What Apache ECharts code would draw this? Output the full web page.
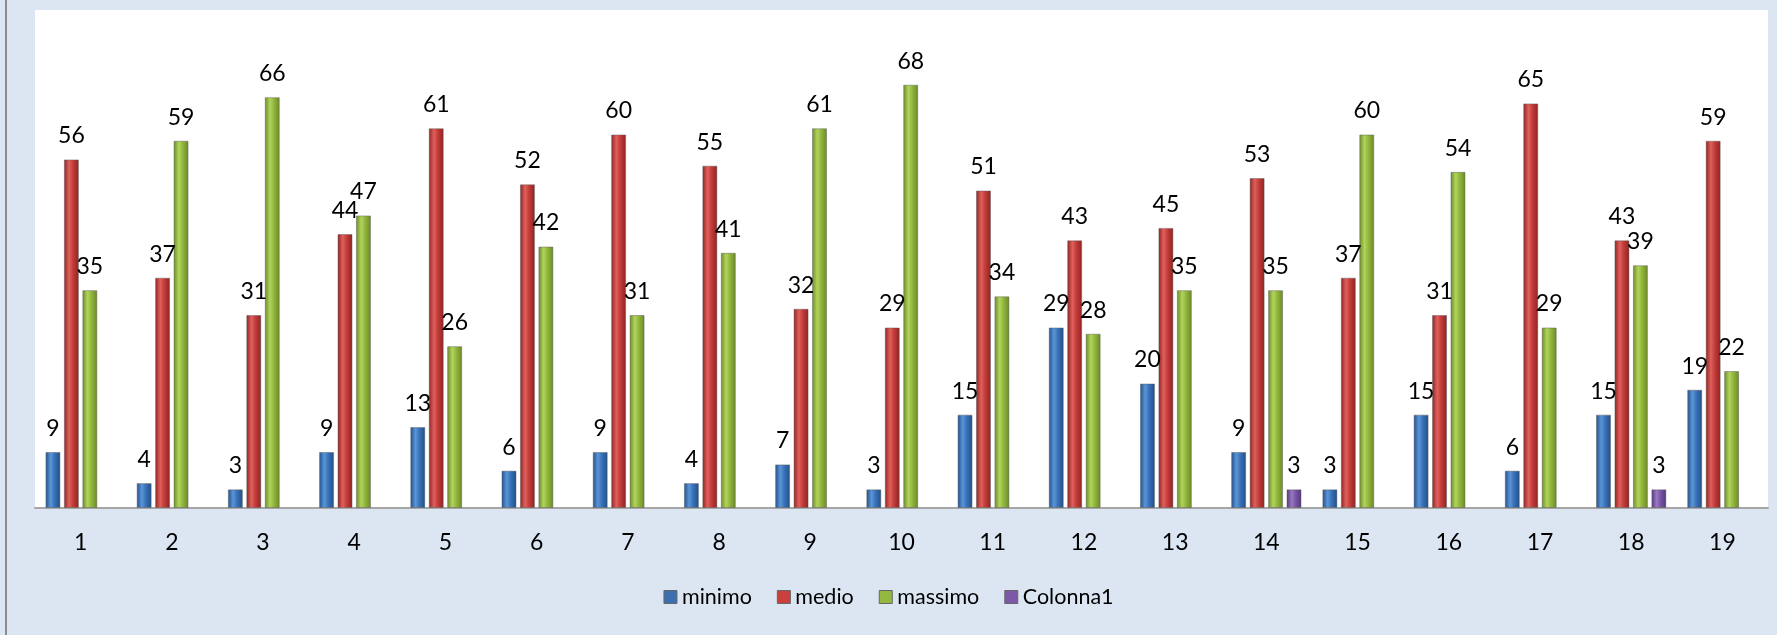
<!DOCTYPE html>
<html>
<head>
<meta charset="utf-8">
<script src="https://cdn.jsdelivr.net/npm/echarts@6/dist/echarts.min.js"></script>
<style>
html,body{margin:0;padding:0;background:#dce6f2;}
#chart{width:1777px;height:635px;}
</style>
</head>
<body>
<div id="chart"></div>
<script>
const categories = ['1','2','3','4','5','6','7','8','9','10','11','12','13','14','15','16','17','18','19'];
const minimo   = [9,4,3,9,13,6,9,4,7,3,15,29,20,9,3,15,6,15,19];
const medio    = [56,37,31,44,61,52,60,55,32,29,51,43,45,53,37,31,65,43,59];
const massimo  = [35,59,66,47,26,42,31,41,61,68,34,28,35,35,60,54,29,39,22];
const colonna1 = [null,null,null,null,null,null,null,null,null,null,null,null,null,3,null,null,null,3,null];

const FONT = 'Lato';

function grad(dark, mid, light) {
  return new echarts.graphic.LinearGradient(0,0,1,0,[
    {offset:0, color:dark},{offset:0.35, color:light},{offset:0.6, color:mid},{offset:1, color:dark}
  ]);
}
function series(name, data, dark, mid, light) {
  return {
    name, type:'bar', data, barWidth:15, barGap:'23%',
    itemStyle:{color:grad(dark,mid,light), borderColor:'rgba(90,90,90,0.45)', borderWidth:1},
    label:{show:true, position:'top', distance:12, color:'#000', fontFamily:FONT, fontSize:23},
    emphasis:{disabled:true}
  };
}

const chart = echarts.init(document.getElementById('chart'), null, {renderer:'canvas'});
chart.setOption({
  backgroundColor:'#dce6f2',
  animation:false,
  grid:{left:35, right:9, top:10, bottom:127, show:true, backgroundColor:'#ffffff', borderWidth:0},
  legend:{
    bottom:22, left:'center', itemWidth:13, itemHeight:13, itemGap:25,
    textStyle:{fontFamily:FONT, fontSize:21.5, color:'#000'},
    data:[
      {name:'minimo', icon:'rect', itemStyle:{color:'#3c6fb0', borderColor:'#666', borderWidth:1}},
      {name:'medio', icon:'rect', itemStyle:{color:'#c9403d', borderColor:'#666', borderWidth:1}},
      {name:'massimo', icon:'rect', itemStyle:{color:'#93b83f', borderColor:'#666', borderWidth:1}},
      {name:'Colonna1', icon:'rect', itemStyle:{color:'#7d58a8', borderColor:'#666', borderWidth:1}}
    ]
  },
  xAxis:{
    type:'category', data:categories,
    axisLine:{lineStyle:{color:'#a6a6a6', width:2}},
    axisTick:{show:false},
    axisLabel:{color:'#000', fontFamily:FONT, fontSize:23, margin:23}
  },
  yAxis:{type:'value', min:0, max:80, interval:10, show:false, splitLine:{show:false}},
  series:[
    series('minimo', minimo, '#1f4f8a', '#3a72b8', '#5b95d8'),
    series('medio', medio, '#8e2220', '#c33d3a', '#e0605c'),
    series('massimo', massimo, '#6a8a25', '#92b63e', '#b2d45c'),
    series('Colonna1', colonna1, '#52357a', '#7b55a6', '#9a78c4')
  ],
  graphic:[{type:'rect', left:5, top:0, shape:{width:2, height:635}, style:{fill:'#8c8c8c'}}]
});
</script>
</body>
</html>
